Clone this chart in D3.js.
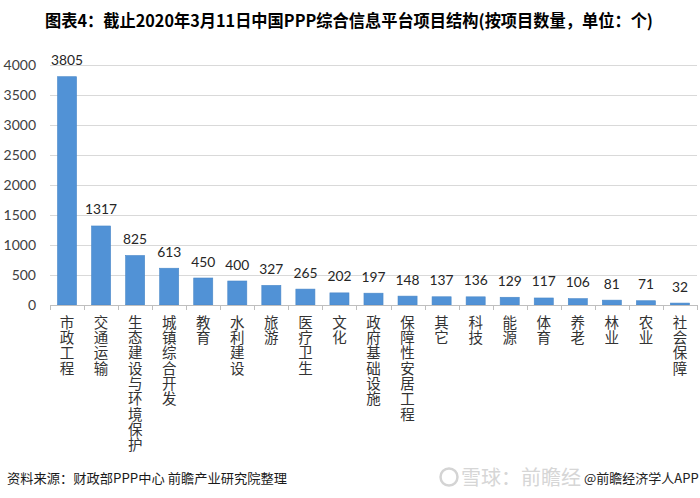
<!DOCTYPE html>
<html><head><meta charset="utf-8">
<script src="https://cdn.jsdelivr.net/npm/d3@7"></script>
<style>body{margin:0;background:#fff}svg{display:block}</style>
</head><body>
<svg id="c" width="700" height="498"></svg>
<script>
const categories = ["市政工程","交通运输","生态建设与环境保护","城镇综合开发","教育","水利建设","旅游","医疗卫生","文化","政府基础设施","保障性安居工程","其它","科技","能源","体育","养老","林业","农业","社会保障"];
const values = [3805,1317,825,613,450,400,327,265,202,197,148,137,136,129,117,106,81,71,32];
const yTicks = [0,500,1000,1500,2000,2500,3000,3500,4000];
const titleText = "图表4：截止2020年3月11日中国PPP综合信息平台项目结构(按项目数量，单位：个)";
const sourceText = "资料来源：财政部PPP中心 前瞻产业研究院整理";

const svg = d3.select("#c");
const cjk = "'Noto Sans CJK SC','Noto Sans',sans-serif";
const num = "Lato,'Open Sans',sans-serif";

const x = d3.scaleBand().domain(categories).range([50, 697]).paddingInner(0.44).paddingOuter(0.22);
const y = d3.scaleLinear().domain([0, 4000]).range([305, 65]);

// title
svg.append("text").attr("x", 349).attr("y", 27).attr("text-anchor", "middle")
  .attr("font-family", cjk).attr("font-weight", "bold").attr("font-size", 17)
  .attr("textLength", 608).attr("lengthAdjust", "spacingAndGlyphs")
  .attr("fill", "#000").text(titleText);

// grid
svg.append("g").selectAll("line").data(yTicks.filter(d => d > 0)).join("line")
  .attr("x1", 50).attr("x2", 697).attr("y1", d => y(d) + 0.5).attr("y2", d => y(d) + 0.5)
  .attr("stroke", "#d9d9d9").attr("stroke-width", 1);

// y tick labels
svg.append("g").selectAll("text").data(yTicks).join("text")
  .attr("x", 36).attr("y", d => y(d)).attr("dy", "0.35em").attr("text-anchor", "end")
  .attr("font-family", num).attr("font-size", 14).attr("fill", "#404040").text(d => d);

// bars
svg.append("g").selectAll("rect").data(values).join("rect")
  .attr("x", (d, i) => x(categories[i])).attr("width", x.bandwidth())
  .attr("y", d => y(d)).attr("height", d => y(0) - y(d))
  .attr("fill", "#5192d6").attr("stroke", "#4a88c8").attr("stroke-width", 0.6);

// value labels
svg.append("g").selectAll("text").data(values).join("text")
  .attr("x", (d, i) => x(categories[i]) + x.bandwidth() / 2).attr("y", d => y(d) - 11.5)
  .attr("text-anchor", "middle").attr("font-family", num).attr("font-size", 13.8)
  .attr("fill", "#262626").text(d => d);

// x axis
const x0 = 50;
svg.append("line").attr("x1", x0).attr("x2", 697).attr("y1", 305.5).attr("y2", 305.5)
  .attr("stroke", "#bfbfbf").attr("stroke-width", 1);
svg.append("g").selectAll("line").data(d3.range(categories.length + 1)).join("line")
  .attr("x1", i => Math.round(x0 + i * (647 / categories.length)) + 0.5)
  .attr("x2", i => Math.round(x0 + i * (647 / categories.length)) + 0.5)
  .attr("y1", 305).attr("y2", 310).attr("stroke", "#bfbfbf");

// x labels (vertical writing)
svg.append("g").selectAll("text").data(categories).join("text")
  .attr("x", d => x(d) + x.bandwidth() / 2).attr("y", 315)
  .attr("writing-mode", "vertical-rl")
  .style("writing-mode", "vertical-rl")
  .attr("font-family", cjk).attr("font-size", 14.5).attr("letter-spacing", 0.8)
  .attr("fill", "#333").text(d => d);

// footer
svg.append("text").attr("x", 7).attr("y", 483).attr("font-family", cjk).attr("font-size", 13)
  .attr("textLength", 280).attr("lengthAdjust", "spacingAndGlyphs")
  .attr("fill", "#1a1a1a").text(sourceText);

// 雪球 watermark
const wm = svg.append("g");
wm.append("circle").attr("cx", 449).attr("cy", 477).attr("r", 8.5).attr("fill", "none")
  .attr("stroke", "#d4d4d4").attr("stroke-width", 2.5);
wm.append("text").attr("x", 461).attr("y", 485).attr("font-family", cjk).attr("font-size", 20)
  .attr("fill", "#d6d6d6").text("雪球：前瞻经");
svg.append("text").attr("x", 584).attr("y", 483).attr("font-family", cjk).attr("font-size", 13)
  .attr("fill", "#222").text("@前瞻经济学人APP");
</script>
</body></html>
